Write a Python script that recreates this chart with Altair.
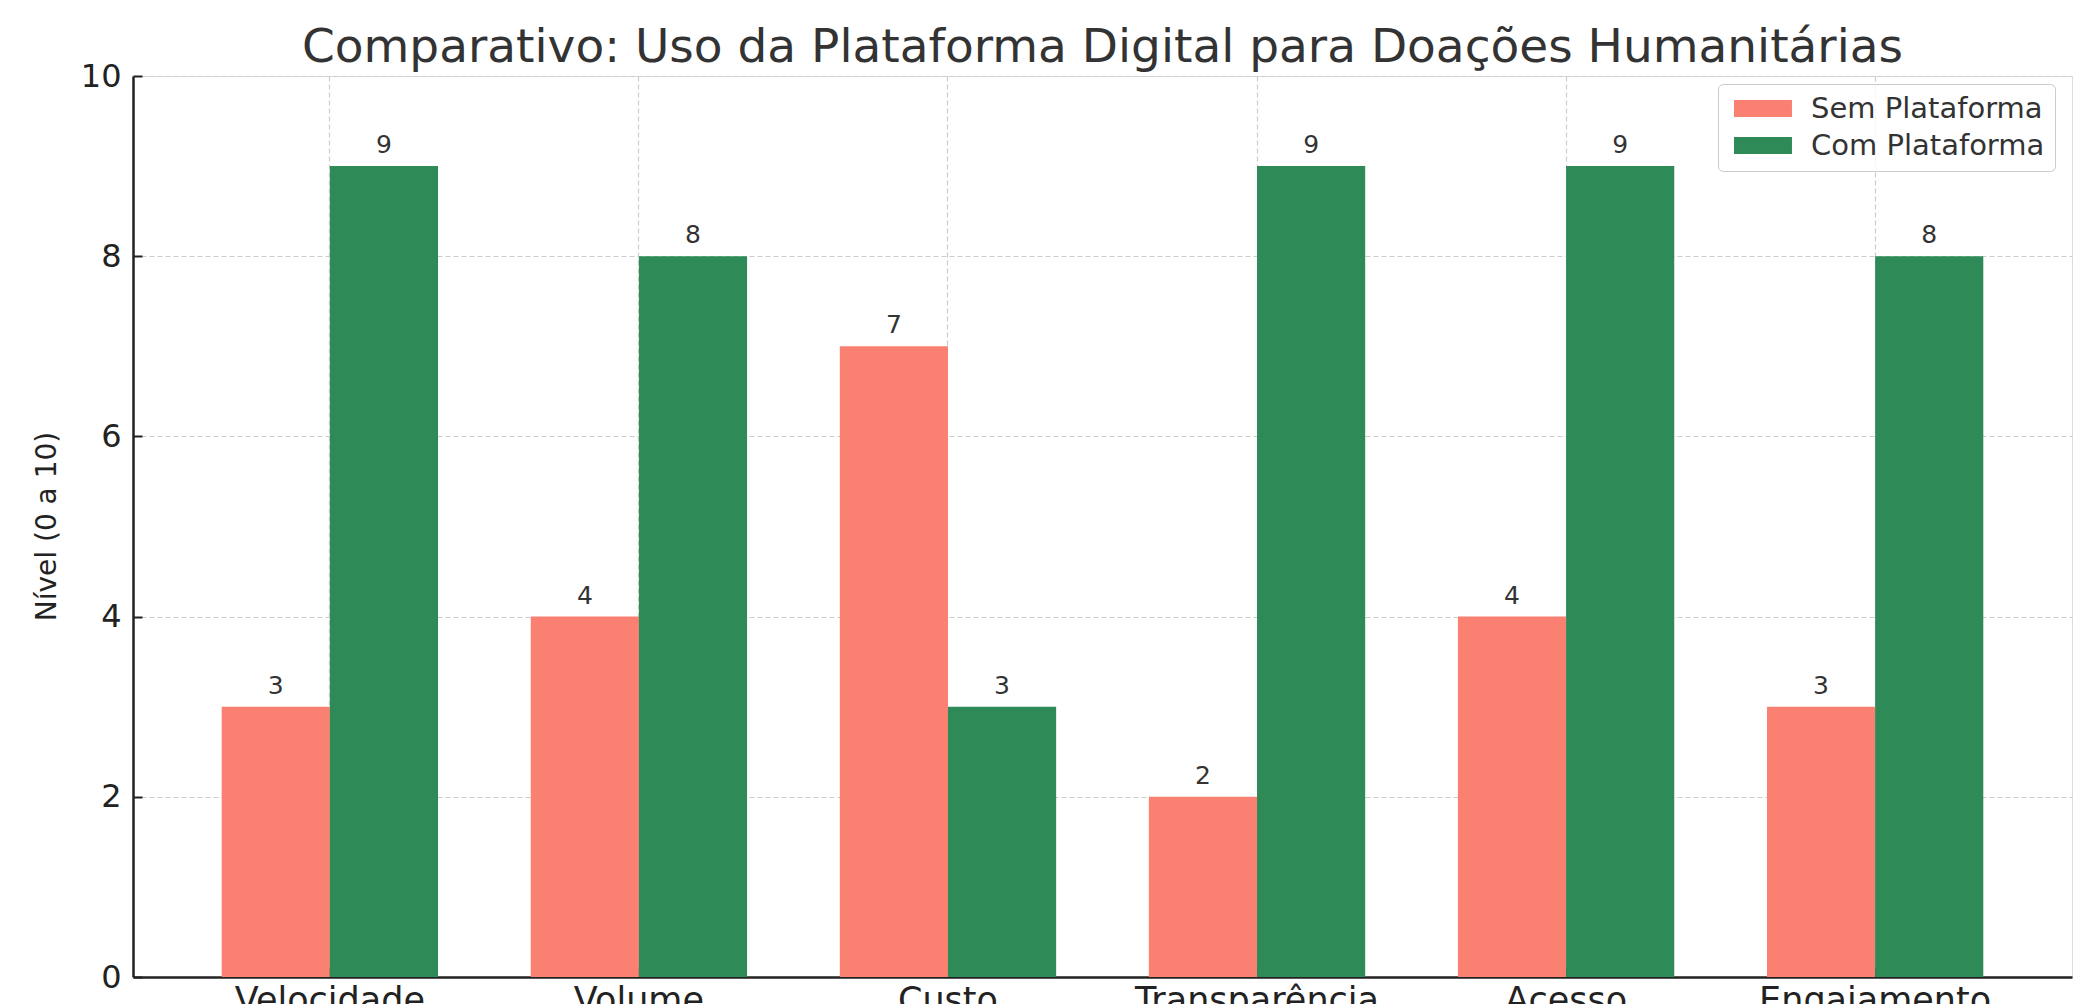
import altair as alt
import pandas as pd

categories = ["Velocidade", "Volume", "Custo", "Transparência", "Acesso", "Engajamento"]
series = ["Sem Plataforma", "Com Plataforma"]
sem_values = [3, 4, 7, 2, 4, 3]
com_values = [9, 8, 3, 9, 9, 8]
colors = ["#FA8072", "#2E8B57"]
y_ticks = [0, 2, 4, 6, 8, 10]

rows = []
for c, s, v in zip(categories, sem_values, com_values):
    rows.append({"cat": c, "serie": series[0], "val": s})
    rows.append({"cat": c, "serie": series[1], "val": v})
df = pd.DataFrame(rows)

FONT = "DejaVu Sans"

xscale = alt.Scale(domain=categories, paddingInner=0.3, paddingOuter=0.287)
yscale = alt.Scale(domain=[0, 10], nice=False)
xoff = alt.XOffset("serie:N", scale=alt.Scale(domain=series, paddingInner=0, paddingOuter=0))

bars = alt.Chart(df).mark_bar().encode(
    x=alt.X("cat:N", scale=xscale, sort=categories,
            axis=alt.Axis(title=None, labelAngle=0, labelFont=FONT, labelFontSize=35, labelLimit=0,
                          labelColor="#222222", labelPadding=6, ticks=False,
                          domainColor="#222222", domainWidth=2.5,
                          grid=True, gridColor="#cccccc", gridDash=[5, 3], gridWidth=1.2)),
    xOffset=xoff,
    y=alt.Y("val:Q", scale=yscale,
            axis=alt.Axis(title="Nível (0 a 10)", values=y_ticks, labelFont=FONT, labelFontSize=32,
                          labelColor="#222222", labelPadding=12, ticks=False,
                          domainColor="#222222", domainWidth=2.5,
                          grid=True, gridColor="#cccccc", gridDash=[5, 3], gridWidth=1.2,
                          titleFont=FONT, titleFontSize=28, titleFontWeight="normal",
                          titleColor="#222222", titleAngle=-90, titleX=-86, titleY=450,
                          titleAlign="center", titleBaseline="middle")),
    color=alt.Color("serie:N", scale=alt.Scale(domain=series, range=colors),
                    legend=alt.Legend(title=None, orient="none", legendX=1585, legendY=8,
                                      symbolType="M-1,-1H5.82V1H-1Z", symbolSize=289,
                                      symbolStrokeWidth=0, labelFont=FONT, labelFontSize=29,
                                      labelLimit=0, labelColor="#333333", labelOffset=54,
                                      strokeColor="#cccccc", fillColor="rgba(255,255,255,0.8)",
                                      cornerRadius=5, padding=10, rowPadding=7)),
)

labels = alt.Chart(df).mark_text(font=FONT, fontSize=25, color="#333333", baseline="bottom", dy=-8).encode(
    x=alt.X("cat:N", scale=xscale, sort=categories,
            axis=alt.Axis(title=None, labels=False, domain=False, grid=False, ticks=True,
                          tickSize=9, tickWidth=2, tickColor="#222222", offset=-9, orient="bottom")),
    xOffset=xoff,
    y=alt.Y("val:Q", scale=yscale,
            axis=alt.Axis(title=None, values=y_ticks, labels=False, domain=False, grid=False, ticks=True,
                          tickSize=9, tickWidth=2, tickColor="#222222", offset=-9, orient="left")),
    text="val:Q",
)

chart = alt.layer(bars, labels).resolve_axis(x="independent", y="independent").properties(
    width=1939, height=901,
    autosize=alt.AutoSizeParams(type="none"),
    padding={"left": 133, "top": 76, "right": 21, "bottom": 27},
    title=alt.TitleParams("Comparativo: Uso da Plataforma Digital para Doações Humanitárias",
                          font=FONT, fontSize=47, fontWeight="normal", color="#333333",
                          anchor="middle", offset=-12),
).configure_view(stroke=None).configure(background="white")

chart.save("out.html", embed_options={"renderer": "svg", "actions": False})
